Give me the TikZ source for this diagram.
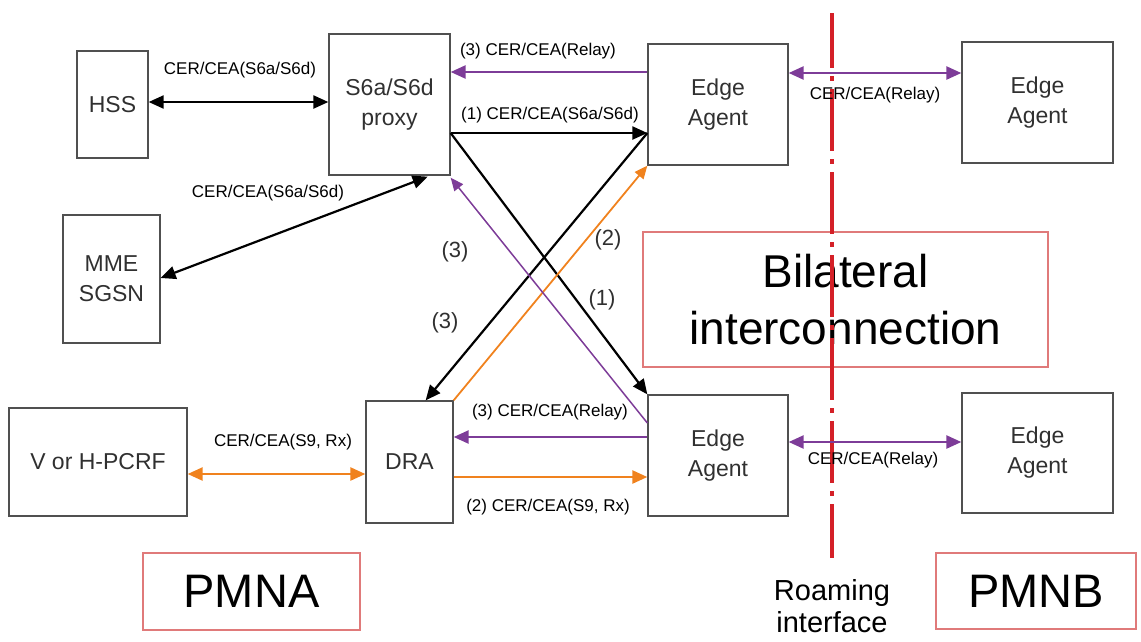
\documentclass[tikz,border=0pt]{standalone}
\usepackage{fontspec}
\setmainfont{Liberation Sans}
\usetikzlibrary{arrows.meta,calc}
\definecolor{pur}{HTML}{7D3C98}
\definecolor{org}{HTML}{F0821E}
\definecolor{rline}{HTML}{D42027}
\definecolor{rbox}{HTML}{E07A7A}
\definecolor{bord}{HTML}{505050}
\definecolor{txt}{HTML}{303030}
\begin{document}
\begin{tikzpicture}[x=1pt,y=-1pt,
  box/.style={draw=bord,line width=1.3pt,inner sep=0pt,align=center,text=txt,font=\fontsize{23}{30}\selectfont},
  region/.style={draw=rbox,line width=1.3pt,inner sep=0pt,align=center,font=\fontsize{46}{57}\selectfont},
  lbl/.style={font=\fontsize{17}{20}\selectfont,inner sep=0pt},
  num/.style={font=\fontsize{22}{26}\selectfont,text=txt,inner sep=0pt},
  blk/.style={line width=2.2pt,-{Triangle[length=15pt,width=13pt]}},
  blkd/.style={line width=2.2pt,{Triangle[length=15pt,width=13pt]}-{Triangle[length=15pt,width=13pt]}},
  purl/.style={draw=pur,line width=2.4pt,-{Triangle[length=15pt,width=13pt]}},
  purd/.style={draw=pur,line width=2.4pt,{Triangle[length=15pt,width=13pt]}-{Triangle[length=15pt,width=13pt]}},
  purt/.style={draw=pur,line width=1.5pt,-{Triangle[length=13pt,width=11pt]}},
  orgl/.style={draw=org,line width=2.4pt,-{Triangle[length=15pt,width=13pt]}},
  orgd/.style={draw=org,line width=2.4pt,{Triangle[length=15pt,width=13pt]}-{Triangle[length=15pt,width=13pt]}},
  orgt/.style={draw=org,line width=1.8pt,-{Triangle[length=13pt,width=11pt]}},
  dashdot/.style={draw=rline,line width=4pt,dash pattern=on 62pt off 8pt on 5pt off 8pt,dash phase=7pt}
]
\useasboundingbox (0,0) rectangle (1141,641);

% helper levels
\coordinate (y72) at (0,72);
\coordinate (y73) at (0,73);
\coordinate (y102) at (0,102);
\coordinate (y133) at (0,133);
\coordinate (y278) at (0,278);
\coordinate (y423) at (0,423);
\coordinate (y437) at (0,437);
\coordinate (y442) at (0,442);
\coordinate (y474) at (0,474);
\coordinate (y477) at (0,477);

% boxes
\node[box,minimum width=71pt,minimum height=107pt] (hss) at (112.5,104.5) {HSS};
\node[box,minimum width=121pt,minimum height=141pt] (s6a) at (389.5,104.5) {S6a/S6d\\proxy};
\node[box,minimum width=97pt,minimum height=128pt] (mme) at (111.5,279) {MME\\SGSN};
\node[box,minimum width=140pt,minimum height=121pt] (ea1) at (718,104.5) {Edge\\Agent};
\node[box,minimum width=151pt,minimum height=121pt] (ea2) at (1037.5,102.5) {Edge\\Agent};
\node[box,minimum width=178pt,minimum height=108pt] (pcrf) at (98,462) {V or H-PCRF};
\node[box,minimum width=87pt,minimum height=122pt] (dra) at (409.5,462) {DRA};
\node[box,minimum width=140pt,minimum height=121pt] (ea3) at (718,455.5) {Edge\\Agent};
\node[box,minimum width=151pt,minimum height=120pt] (ea4) at (1037.5,453) {Edge\\Agent};

% regions
\node[region,minimum width=405pt,minimum height=135pt] (bil) at (845.5,299.5) {Bilateral\\interconnection};
\node[region,minimum width=217pt,minimum height=77pt,font=\fontsize{47}{50}\selectfont] (pmna) at (251.5,591.5) {PMNA};
\node[region,minimum width=200pt,minimum height=76pt,font=\fontsize{47}{50}\selectfont] (pmnb) at (1036,591) {PMNB};

% roaming interface line
\coordinate (rtop) at (832,13);
\coordinate (rbot) at (832,558);
\draw[dashdot] (rtop) -- (rbot);
\node[font=\fontsize{29}{33}\selectfont,anchor=base,inner sep=0pt] (roam1) at (832,600) {Roaming};
\node[font=\fontsize{29}{33}\selectfont,anchor=base,inner sep=0pt] (roam2) at (832,632) {interface};

% connectors top
\draw[blkd] (hss.east |- y102) -- (s6a.west |- y102);
\node[lbl] (l1) at (240,70) {CER/CEA(S6a/S6d)};
\draw[blkd] (mme.east |- y278) -- ($(s6a.south east)+(-23,1)$);
\node[lbl] (l2) at (268,193) {CER/CEA(S6a/S6d)};
\draw[purl] (ea1.west |- y72) -- (s6a.east |- y72);
\node[lbl] (l3) at (538,51) {(3) CER/CEA(Relay)};
\draw[blk] (s6a.east |- y133) -- (ea1.west |- y133);
\node[lbl] (l4) at (550,115) {(1) CER/CEA(S6a/S6d)};
\draw[purd] (ea1.east |- y73) -- (ea2.west |- y73);
\node[lbl] (l5) at (875,95) {CER/CEA(Relay)};

% diagonals
\draw[blk] (s6a.east |- y133) -- (ea3.north west);
\draw[blk] (ea1.west |- y133) -- ($(dra.north east)+(-28,0)$);
\draw[orgt] (dra.north east) -- (ea1.south west);
\draw[purt] (ea3.west |- y423) -- ($(s6a.south east)+(0,2)$);
\node[num] (n3a) at (455,252) {(3)};
\node[num] (n3b) at (445,323) {(3)};
\node[num] (n2) at (608,240) {(2)};
\node[num] (n1) at (602,300) {(1)};

% connectors bottom
\draw[orgd] (pcrf.east |- y474) -- (dra.west |- y474);
\node[lbl] (l6) at (283,442) {CER/CEA(S9, Rx)};
\draw[purl] (ea3.west |- y437) -- (dra.east |- y437);
\node[lbl] (l7) at (550,412) {(3) CER/CEA(Relay)};
\draw[orgl] (dra.east |- y477) -- (ea3.west |- y477);
\node[lbl] (l8) at (548,507) {(2) CER/CEA(S9, Rx)};
\draw[purd] (ea3.east |- y442) -- (ea4.west |- y442);
\node[lbl] (l9) at (873,460) {CER/CEA(Relay)};
\end{tikzpicture}
\end{document}
